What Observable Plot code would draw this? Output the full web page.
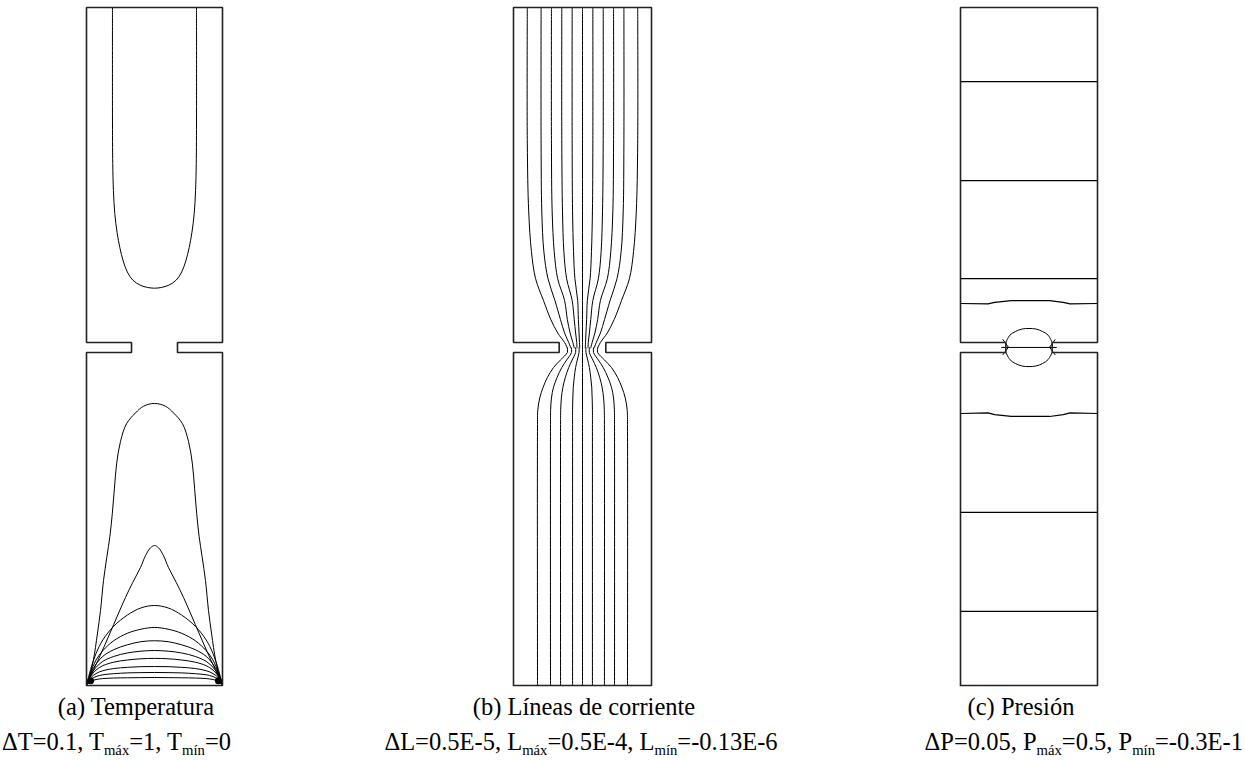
<!DOCTYPE html>
<html><head><meta charset="utf-8">
<script src="https://cdn.jsdelivr.net/npm/d3@7"></script>
<script src="https://cdn.jsdelivr.net/npm/@observablehq/plot@0.6"></script>
<style>
html,body{margin:0;padding:0;background:#fff;}
body{width:1245px;height:760px;position:relative;overflow:hidden;font-family:"Liberation Serif","Times New Roman",serif;color:#000;}
.panel{position:absolute;top:0;}
.cap{position:absolute;white-space:nowrap;font-size:24.5px;line-height:25px;}
.cap sub{font-size:0.6em;vertical-align:baseline;position:relative;top:0.33em;line-height:0;}
</style></head><body>
<script>
// ---------- geometry of the channel (x: 0..1 width, y: 0..5 height from bottom) ----------
const outlineX = [0, 1, 1, 0.669, 0.669, 1, 1, 0, 0, 0.331, 0.331, 0, 0];
const outlineY = [0, 0, 2.456, 2.456, 2.53, 2.53, 5, 5, 2.53, 2.53, 2.456, 2.456, 0];

// ---------- (a) Temperatura: isotherms ----------
const upperUX = [0.191,0.191,0.193,0.198,0.208,0.225,0.245,0.27,0.30,0.34,0.40,0.5,0.60,0.66,0.70,0.73,0.755,0.775,0.792,0.802,0.807,0.809,0.809];
const upperUY = [5,4.2,3.85,3.65,3.48,3.34,3.23,3.13,3.05,2.99,2.95,2.93,2.95,2.99,3.05,3.13,3.23,3.34,3.48,3.65,3.85,4.2,5];
const bigArchX = [0.005,0.02,0.05,0.08,0.103,0.125,0.15,0.172,0.19,0.205,0.222,0.25,0.294,0.36,0.42,0.5,0.58,0.64,0.706,0.75,0.778,0.795,0.81,0.828,0.85,0.875,0.897,0.92,0.95,0.98,0.995];
const bigArchY = [0.008,0.06,0.184,0.38,0.553,0.774,0.95,1.1,1.27,1.45,1.64,1.8,1.93,2.01,2.06,2.08,2.06,2.01,1.93,1.8,1.64,1.45,1.27,1.1,0.95,0.774,0.553,0.38,0.184,0.06,0.008];
const midArchX = [0.005,0.04,0.1,0.17,0.23,0.287,0.34,0.397,0.435,0.47,0.5,0.53,0.565,0.603,0.66,0.713,0.77,0.83,0.9,0.96,0.995];
const midArchY = [0.012,0.09,0.22,0.38,0.52,0.65,0.76,0.87,0.96,1.015,1.032,1.015,0.96,0.87,0.76,0.65,0.52,0.38,0.22,0.09,0.012];
const archX = [0.005,0.03,0.07,0.12,0.2,0.3,0.4,0.5,0.6,0.7,0.8,0.88,0.93,0.97,0.995];
const arch1Y = [0.018,0.118,0.236,0.336,0.437,0.519,0.572,0.59,0.572,0.519,0.437,0.336,0.236,0.118,0.018];
const arch2Y = [0.013,0.094,0.188,0.257,0.33,0.385,0.415,0.428,0.415,0.385,0.33,0.257,0.188,0.094,0.013];
const arch3Y = [0.013,0.086,0.158,0.215,0.264,0.30,0.323,0.33,0.323,0.30,0.264,0.215,0.158,0.086,0.013];
const arch4Y = [0.013,0.077,0.134,0.178,0.214,0.24,0.253,0.258,0.253,0.24,0.214,0.178,0.134,0.077,0.013];
const arch5Y = [0.012,0.068,0.114,0.146,0.172,0.188,0.197,0.2,0.197,0.188,0.172,0.146,0.114,0.068,0.012];
const arch6Y = [0.011,0.056,0.088,0.109,0.125,0.134,0.139,0.14,0.139,0.134,0.125,0.109,0.088,0.056,0.011];
const arch7Y = [0.01,0.044,0.066,0.079,0.087,0.093,0.095,0.096,0.095,0.093,0.087,0.079,0.066,0.044,0.01];
const arch8Y = [0.008,0.031,0.044,0.051,0.055,0.057,0.058,0.059,0.058,0.057,0.055,0.051,0.044,0.031,0.008];
const cornerBlobX = [0.03, 0.97];
const cornerBlobY = [0.035, 0.035];

// ---------- (b) Líneas de corriente: streamlines ----------
const upperStreamY = [5, 4.0, 3.5, 3.2, 3.0, 2.84, 2.7, 2.6, 2.53, 2.49];
const upperStreamX = [
  [0.1,0.1,0.11,0.13,0.16,0.217,0.27,0.32,0.37,0.39],
  [0.2,0.2,0.205,0.22,0.25,0.30,0.34,0.37,0.40,0.415],
  [0.275,0.275,0.28,0.295,0.32,0.37,0.39,0.41,0.43,0.44],
  [0.35,0.35,0.355,0.365,0.385,0.425,0.44,0.45,0.458,0.46],
  [0.425,0.425,0.428,0.435,0.445,0.465,0.47,0.475,0.478,0.48],
  [0.5,0.5,0.5,0.5,0.5,0.5,0.5,0.5,0.5,0.5],
  [0.575,0.575,0.572,0.565,0.555,0.535,0.53,0.525,0.522,0.52],
  [0.65,0.65,0.645,0.635,0.615,0.575,0.56,0.55,0.542,0.54],
  [0.725,0.725,0.72,0.705,0.68,0.63,0.61,0.59,0.57,0.56],
  [0.8,0.8,0.795,0.78,0.75,0.70,0.66,0.63,0.60,0.585],
  [0.9,0.9,0.89,0.87,0.84,0.783,0.73,0.68,0.63,0.61]
];
const lowerStreamY = [2.49, 2.456, 2.40, 2.345, 2.27, 2.2, 2.12, 2.03, 1.9, 0];
const lowerStreamX = [
  [0.39,0.39,0.34,0.29,0.245,0.215,0.19,0.176,0.174,0.174],
  [0.42,0.42,0.385,0.35,0.315,0.29,0.275,0.269,0.268,0.268],
  [0.45,0.45,0.425,0.40,0.375,0.358,0.347,0.342,0.341,0.341],
  [0.475,0.475,0.462,0.45,0.44,0.433,0.43,0.428,0.428,0.428],
  [0.5,0.5,0.5,0.5,0.5,0.5,0.5,0.5,0.5,0.5],
  [0.525,0.525,0.538,0.55,0.56,0.567,0.57,0.572,0.572,0.572],
  [0.55,0.55,0.575,0.60,0.625,0.642,0.653,0.658,0.659,0.659],
  [0.58,0.58,0.615,0.65,0.685,0.71,0.725,0.731,0.732,0.732],
  [0.61,0.61,0.66,0.71,0.755,0.785,0.81,0.824,0.826,0.826]
];

// ---------- (c) Presión: isobars (P = 0.45 ... 0.0) ----------
const isobarX = [0, 0.2, 0.25, 0.37, 0.5, 0.65, 0.75, 0.8, 1];
const isobar045Y = [4.454,4.454,4.454,4.454,4.454,4.454,4.454,4.454,4.454];
const isobar040Y = [3.724,3.724,3.724,3.724,3.724,3.724,3.724,3.724,3.724];
const isobar035Y = [3.0,3.0,3.0,3.0,3.0,3.0,3.0,3.0,3.0];
const isobar030Y = [2.817,2.814,2.826,2.839,2.839,2.839,2.826,2.814,2.817];
const isobar010Y = [2.006,2.01,1.998,1.984,1.984,1.984,1.998,2.01,2.006];
const isobar005Y = [1.276,1.276,1.276,1.276,1.276,1.276,1.276,1.276,1.276];
const isobar000Y = [0.546,0.546,0.546,0.546,0.546,0.546,0.546,0.546,0.546];
const lensX = [0.331,0.36,0.40,0.45,0.5,0.55,0.60,0.64,0.669];
const lensUpperY = [2.53,2.583,2.61,2.629,2.633,2.629,2.61,2.583,2.53];
const lensLowerY = [2.456,2.404,2.375,2.356,2.352,2.356,2.375,2.404,2.456];
const neckLineX = [0.30, 0.70];
const neckLineY = [2.493, 2.493];
const wedgeLeftX = [0.31, 0.35, 0.31];
const wedgeRightX = [0.69, 0.65, 0.69];
const wedgeY = [2.55, 2.495, 2.44];

// ---------- captions ----------
const captionTitles = ["(a) Temperatura", "(b) Líneas de corriente", "(c) Presión"];
const captionParams = [
  "ΔT=0.1, T<sub>máx</sub>=1, T<sub>mín</sub>=0",
  "ΔL=0.5E-5, L<sub>máx</sub>=0.5E-4, L<sub>mín</sub>=-0.13E-6",
  "ΔP=0.05, P<sub>máx</sub>=0.5, P<sub>mín</sub>=-0.3E-1"
];

// ---------- helpers ----------
function series(id, xs, ys) {
  return xs.map((x, i) => ({id, x, y: ys[i]}));
}
const outline = series("outline", outlineX, outlineY);

const tempLines = [
  ...series("U", upperUX, upperUY),
  ...series("big", bigArchX, bigArchY),
  ...series("mid", midArchX, midArchY),
  ...[arch1Y, arch2Y, arch3Y, arch4Y, arch5Y, arch6Y, arch7Y, arch8Y].flatMap((ys, k) => series("a" + k, archX, ys))
];
const blobs = cornerBlobX.map((x, i) => ({x, y: cornerBlobY[i]}));

const streamLines = [
  ...upperStreamX.flatMap((xs, k) => series("u" + k, xs, upperStreamY)),
  ...lowerStreamX.flatMap((xs, k) => series("l" + k, xs, lowerStreamY))
];

const pressLines = [isobar045Y, isobar040Y, isobar035Y, isobar030Y, isobar010Y, isobar005Y, isobar000Y]
  .flatMap((ys, k) => series("p" + k, isobarX, ys));
const lensLines = [
  ...series("lu", lensX, lensUpperY),
  ...series("ll", lensX, lensLowerY)
];
const neckLines = [
  ...series("nl", neckLineX, neckLineY),
  ...series("wl", wedgeLeftX, wedgeY),
  ...series("wr", wedgeRightX, wedgeY)
];

const M = 6;
function makePanel(left, innerW, marks) {
  const svg = Plot.plot({
    width: innerW + 2 * M,
    height: 685 + M,
    marginLeft: M, marginRight: M, marginTop: 7, marginBottom: M,
    x: {domain: [0, 1], axis: null},
    y: {domain: [0, 5], axis: null},
    style: {background: "transparent", overflow: "visible"},
    marks: [
      ...marks,
      Plot.line(outline, {x: "x", y: "y", stroke: "#222", strokeWidth: 1.6, strokeLinejoin: "miter", strokeLinecap: "square"})
    ]
  });
  svg.classList.add("panel");
  svg.style.left = (left - M) + "px";
  document.body.appendChild(svg);
}

makePanel(86, 136, [
  Plot.line(tempLines, {x: "x", y: "y", z: "id", stroke: "#000", strokeWidth: 1, curve: "catmull-rom"}),
  Plot.dot(blobs, {x: "x", y: "y", r: 3.5, fill: "#000", stroke: "none"})
]);
makePanel(513, 138, [
  Plot.line(streamLines, {x: "x", y: "y", z: "id", stroke: "#000", strokeWidth: 1, curve: "catmull-rom"})
]);
makePanel(960, 137, [
  Plot.line(pressLines, {x: "x", y: "y", z: "id", stroke: "#000", strokeWidth: 1.2}),
  Plot.line(lensLines, {x: "x", y: "y", z: "id", stroke: "#000", strokeWidth: 1, curve: "catmull-rom"}),
  Plot.line(neckLines, {x: "x", y: "y", z: "id", stroke: "#000", strokeWidth: 1})
]);

// captions: anchor x and alignment for each line
const titleAnchors = [[136, "center"], [584, "center"], [1021, "center"]];
const paramAnchors = [[2, "left"], [581, "center"], [1243, "right"]];
function addCaption(html, anchor, top) {
  const d = document.createElement("div");
  d.className = "cap";
  d.style.top = top + "px";
  d.innerHTML = html;
  const [x, align] = anchor;
  if (align === "left") d.style.left = x + "px";
  else if (align === "right") d.style.right = (1245 - x) + "px";
  else { d.style.left = x + "px"; d.style.transform = "translateX(-50%)"; }
  document.body.appendChild(d);
}
captionTitles.forEach((t, i) => addCaption(t, titleAnchors[i], 694));
captionParams.forEach((t, i) => addCaption(t, paramAnchors[i], 729));
</script>
</body></html>
